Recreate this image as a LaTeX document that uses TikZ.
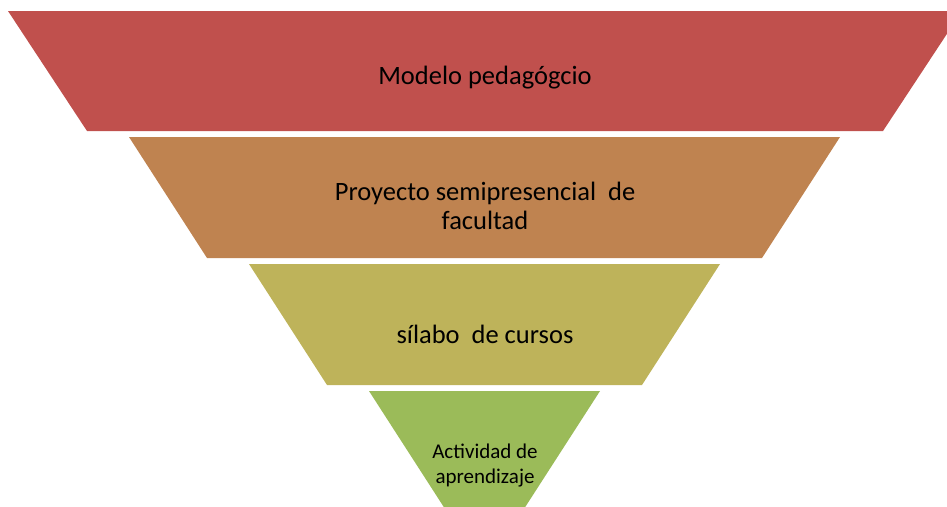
\documentclass[tikz,border=0pt]{standalone}
\usepackage{fontspec}
\setmainfont{Carlito}
\definecolor{c1}{HTML}{C0504D}
\definecolor{c2}{HTML}{BF8350}
\definecolor{c3}{HTML}{BEB35A}
\definecolor{c4}{HTML}{9BBB59}
\begin{document}
\begin{tikzpicture}[x=1pt,y=-1pt,
  lbl/.style={align=center,text=black,inner sep=0pt},
  big/.style={lbl,font=\fontsize{26.5}{29}\selectfont},
  small/.style={lbl,font=\fontsize{21}{25}\selectfont}]
\useasboundingbox (0,0) rectangle (947,506);
\begin{scope}
\clip (0,0) rectangle (947,506);
\fill[c1] (8,11) -- (962,11) -- (883,131) -- (87,131) -- cycle;
\fill[c2] (129,137) -- (840,137) -- (762,258) -- (207,258) -- cycle;
\fill[c3] (249,264) -- (720,264) -- (642,385) -- (327,385) -- cycle;
\fill[c4] (369,391) -- (600,391) -- (522,512) -- (447,512) -- cycle;
\end{scope}
\node[big] (t1) at (485,78) {Modelo pedagógcio};
\node[big] (t2) at (485,206) {Proyecto semipresencial\ \ de\\facultad};
\node[big] (t3) at (485,334) {sílabo\ \ de cursos};
\node[small] (t4) at (485,466) {Actividad de\\aprendizaje};
\end{tikzpicture}
\end{document}
